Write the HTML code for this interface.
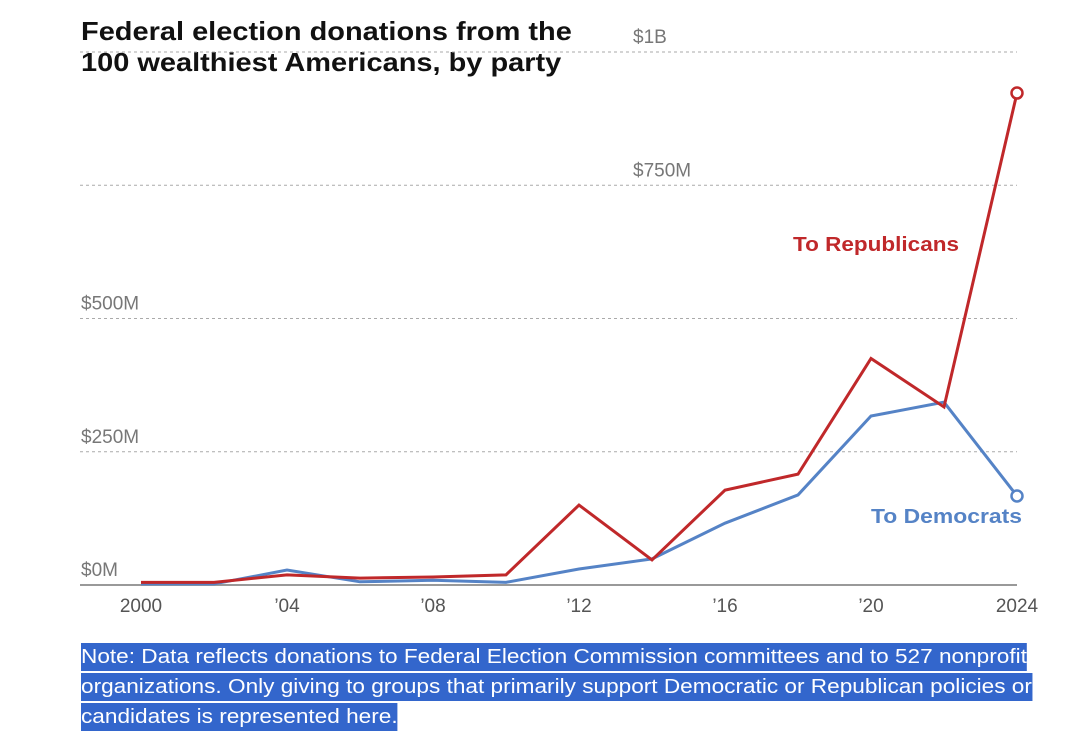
<!DOCTYPE html>
<html><head><meta charset="utf-8"><style>
body{margin:0;width:1090px;height:735px;background:#fff;font-family:"Liberation Sans",sans-serif;overflow:hidden;position:relative}
#title{position:absolute;left:81px;top:16px;font-size:26px;font-weight:bold;line-height:31px;color:#111;transform:scaleX(1.114);transform-origin:left top;white-space:nowrap}
#note{position:absolute;left:81px;top:642px;font-size:20px;line-height:30px;color:#fff;transform:scaleX(1.13);transform-origin:left top;white-space:nowrap}
#note span{background:#3366cc;box-decoration-break:clone;-webkit-box-decoration-break:clone;padding:3px 0}
svg{position:absolute;left:0;top:0}
</style></head><body>
<div id="title">Federal election donations from the<br>100 wealthiest Americans, by party</div>
<svg id="chart" width="1090" height="640"></svg>
<div id="note"><span>Note: Data reflects donations to Federal Election Commission committees and to 527 nonprofit<br>organizations. Only giving to groups that primarily support Democratic or Republican policies or<br>candidates is represented here.</span></div>
<script>
const years=[2000,2002,2004,2006,2008,2010,2012,2014,2016,2018,2020,2022,2024];
const republicans=[5,5,19,13,15,19,150,47,178,208,425,334,923];
const democrats=[2,2,28,6,9,5,30,49,116,169,317,343,167];
const yTicks=[0,250,500,750,1000];
const yTickLabels=["$0M","$250M","$500M","$750M","$1B"];
const xTicks=[2000,2004,2008,2012,2016,2020,2024];
const xTickLabels=["2000","’04","’08","’12","’16","’20","2024"];
const NS="http://www.w3.org/2000/svg";
const svg=document.getElementById('chart');
const x=v=>141+(v-2000)*(1017-141)/24;
const y=v=>585-v*(585-52)/1000;
function mk(t,a){const e=document.createElementNS(NS,t);for(const k in a)e.setAttribute(k,a[k]);svg.appendChild(e);return e;}
yTicks.forEach((t,i)=>{
 if(t>0){const l=mk('line',{x1:80,x2:1017,y1:y(t),y2:y(t),stroke:'#aaa','stroke-dasharray':'3,3','stroke-width':1});
 
 }
 const tx=mk('text',{x:t>=750?633:81,y:y(t)-9,fill:'#777','font-size':19});
 tx.textContent=yTickLabels[i];
 
 
});
const ax=mk('line',{x1:80,x2:1017,y1:585,y2:585,stroke:'#999','stroke-width':2});


xTicks.forEach((t,i)=>{
 const tx=mk('text',{x:x(t),y:612,fill:'#555','font-size':19,'text-anchor':'middle'});
 tx.textContent=xTickLabels[i];
 
 
});
function series(vals,color,name){
 const p=mk('polyline',{points:vals.map((v,i)=>x(years[i])+','+y(v)).join(' '),fill:'none',stroke:color,'stroke-width':3,'stroke-linejoin':'miter'});
 
 
 const n=vals.length-1;
 const c=mk('circle',{cx:x(years[n]),cy:y(vals[n]),r:5.5,fill:'#fff',stroke:color,'stroke-width':2.5});
 
 
}
series(democrats,'#5583c6','democrats');
series(republicans,'#c0282a','republicans');
const lr=mk('text',{x:793,y:251,fill:'#c0282a','font-size':20,'font-weight':'bold',textLength:166,lengthAdjust:'spacingAndGlyphs'});
lr.textContent='To Republicans';


const ld=mk('text',{x:871,y:523,fill:'#5583c6','font-size':20,'font-weight':'bold',textLength:151,lengthAdjust:'spacingAndGlyphs'});
ld.textContent='To Democrats';


</script>
</body></html>
